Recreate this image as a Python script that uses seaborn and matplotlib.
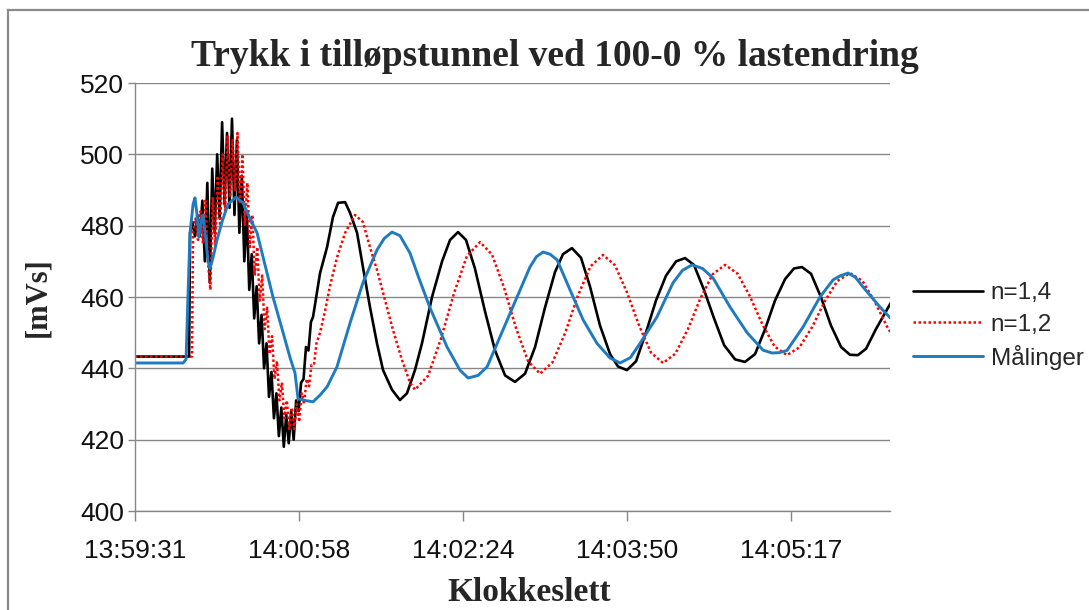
import matplotlib
matplotlib.use("Agg")
import matplotlib.pyplot as plt
import seaborn as sns
from matplotlib.lines import Line2D

# ---------------- data (seconds after 13:59:31, value in mVs) ----------------
title = "Trykk i tilløpstunnel ved 100-0 % lastendring"
x_label = "Klokkeslett"
y_label = "[mVs]"
series_names = ["n=1,4", "n=1,2", "Målinger"]

x_tick_pos = [0, 86.4, 172.8, 259.2, 345.6]
x_tick_labels = ["13:59:31", "14:00:58", "14:02:24", "14:03:50", "14:05:17"]
y_ticks = [400, 420, 440, 460, 480, 500, 520]

black_t = [0, 28.5,
           29.0, 30.3, 31.6, 32.9, 34.2, 35.5, 36.8, 38.1, 39.4, 40.7,
           42.0, 43.3, 44.6, 45.9, 47.2, 48.5, 49.8, 51.1, 52.4, 53.7,
           55.0, 56.3, 57.6, 58.9, 60.2, 61.5, 62.8, 64.1, 65.4, 66.7,
           68.0, 69.3, 70.6, 71.9, 73.2, 74.5, 75.8, 77.1, 78.4, 79.7,
           81.0, 82.3, 83.6, 84.9, 86.2, 87.5, 88.8, 90.1, 91.4, 92.7,
           93.8, 97.5, 101.2, 104.3, 107.0, 110.7, 113.3, 117.0, 120.1, 123.8,
           127.5, 130.7, 135.4, 139.6, 143.3, 147.5, 151.2, 156.5, 161.8, 166.0,
           170.2, 174.4, 179.1, 184.4, 189.7, 195.0, 200.2, 205.5, 210.8, 216.0,
           221.3, 225.5, 230.2, 235.0, 239.7, 245.0, 250.3, 254.5, 259.2, 264.0,
           269.2, 274.5, 279.8, 285.1, 289.8, 294.5, 299.8, 305.1, 310.4, 316.2,
           321.4, 326.7, 332.0, 337.2, 342.5, 347.2, 351.4, 356.2, 361.4, 366.7,
           372.0, 376.7, 380.9, 385.2, 390.4, 398.9]
black_v = [443.3, 443.3,
           478, 481, 477, 483, 477, 487, 470, 492, 464, 496,
           478, 500, 482, 509, 486, 506, 485, 510, 483, 504,
           478, 494, 470, 484, 462, 472, 454, 463, 447, 455,
           440, 447, 432, 439, 426, 433, 421, 429, 418, 427,
           419, 428, 420, 431, 428, 436, 437, 446, 445, 453,
           454.4, 466.7, 474, 482.4, 486.4, 486.6, 483.6, 478, 468.4, 457.2,
           447, 439.5, 434, 431.1, 433, 439.5, 447, 460, 470, 476,
           478.2, 476, 468, 456, 445, 438, 436.2, 438.5, 446, 457,
           467, 472, 473.7, 471, 463, 452, 444, 440.5, 439.5, 442,
           450, 459, 466, 470, 470.9, 469, 462, 454, 446.5, 442.5,
           441.8, 444, 451, 459, 465, 468, 468.4, 466.5, 460, 452,
           446, 443.8, 443.7, 445.5, 451, 459]

red_t = [0, 30.0,
         30.6, 31.9, 33.2, 34.5, 35.8, 37.1, 38.4, 39.7, 41.0, 42.3,
         43.6, 44.9, 46.2, 47.5, 48.8, 50.1, 51.4, 52.7, 54.0, 55.3,
         56.6, 57.9, 59.2, 60.5, 61.8, 63.1, 64.4, 65.7, 67.0, 68.3,
         69.6, 70.9, 72.2, 73.5, 74.8, 76.1, 77.4, 78.7, 80.0, 81.3,
         82.6, 83.9, 85.2, 86.5, 87.8, 89.1, 90.4, 91.7, 93.0, 94.3, 95.6,
         97.5, 100.1, 102.7, 106.4, 110.7, 115.9, 120.1, 123.8, 127.5, 131.7,
         135.9, 140.7, 144.9, 147.5, 154.4, 161.2, 168.1, 174.9, 181.8, 188.1,
         194.4, 200.8, 207.1, 213.4, 220.0, 226.7, 233.3, 240.0, 246.6, 252.9,
         259.2, 265.6, 271.9, 278.2, 284.7, 291.3, 297.8, 304.4, 310.9, 317.4,
         323.9, 330.5, 337.0, 343.5, 350.1, 356.8, 363.4, 370.1, 376.7, 383.3,
         389.9, 396.5, 398.9]
red_v = [443.3, 443.3,
         478, 482, 476, 484, 475, 487, 470, 462, 488, 474,
         494, 480, 500, 484, 505, 488, 504, 490, 506, 486,
         500, 480, 492, 474, 483, 466, 474, 459, 466, 451,
         457, 444, 449, 437, 442, 431, 436, 426, 431, 423,
         429, 423, 430, 425, 433, 430, 437, 435, 441, 441, 447,
         450, 456, 463, 471, 478, 483, 481, 474, 467.6, 459.2,
         450.8, 442.3, 436, 434, 437.9, 448.3, 461.1, 471.5, 475.4, 471.9,
         462.7, 451.2, 442.0, 438.5, 441.7, 450.0, 460.3, 468.6, 471.8, 468.9,
         461.3, 452.0, 444.4, 441.5, 444.1, 451.0, 459.5, 466.4, 469, 466.6,
         460.3, 452.4, 446.1, 443.7, 445.9, 451.6, 458.8, 464.5, 466.7, 464.5,
         458.6, 451.4, 449.5]

blue_t = [0, 25.3, 26.9, 27.9, 29.0, 30.6, 31.6, 32.7, 33.7, 34.8,
          35.8, 36.9, 38.5, 39.5, 41.1, 43.2, 45.8, 49.0, 53.2, 56.9,
          60.6, 64.3, 68.5, 72.7, 77.5, 81.7, 84.3, 85.9, 89.6, 93.8,
          97.5, 101.2, 106.4, 113.3, 120.1, 127.5, 131.3, 135.4, 139.6, 144.9,
          149.1, 155.4, 164.4, 171.2, 175.5, 180.7, 185.5, 193.9, 201.3, 208.1,
          211.5, 215.0, 218.7, 222.4, 229.2, 236.1, 243.4, 250.3, 255.6, 261.0,
          266.1, 275.0, 283.5, 288.5, 293.5, 299.0, 304.6, 313.5, 322.5, 330.9,
          335.6, 339.5, 343.5, 352.0, 360.9, 367.8, 371.8, 375.7, 379.6, 383.6,
          392.5, 398.9]
blue_v = [441.5, 441.5, 442.5, 460, 478, 486, 487.8, 483, 476.8, 481,
          483, 478, 470, 468, 471, 476, 481, 486, 488, 486.4,
          482, 478, 469, 460, 451, 443, 438.7, 431.5, 431.0, 430.6,
          432.5, 434.8, 440.4, 452.7, 464, 473.2, 476.4, 478.2, 477.2, 472.3,
          466, 457, 446, 439.5, 437.3, 438, 440.4, 450.8, 460, 468.4,
          471.3, 472.6, 472.0, 470.4, 462, 453.6, 447, 442.9, 441.5, 443,
          447, 454.4, 464, 467.5, 469, 468, 465.3, 457.2, 450, 445.1,
          444.3, 444.4, 445, 451.6, 460, 464.8, 466.0, 466.7, 465.5, 462.8,
          457.2, 453.6]

# ---------------- styling ----------------
sns.set_style("white")
plt.rcParams['font.family'] = ['Liberation Sans', 'DejaVu Sans']

W, H = 1089, 610
fig = plt.figure(figsize=(W / 100, H / 100), dpi=100)
ax = fig.add_axes([135 / W, 1 - 511 / H, 755 / W, 428 / H])

grey = '#878787'

sns.lineplot(x=black_t, y=black_v, ax=ax, color='black', linewidth=1.9,
             label=series_names[0], estimator=None, sort=False)
sns.lineplot(x=red_t, y=red_v, ax=ax, color='#ff0000', linewidth=1.8,
             label=series_names[1], estimator=None, sort=False)
ax.lines[-1].set_linestyle((0, (1, 1)))
sns.lineplot(x=blue_t, y=blue_v, ax=ax, color='#1f7bc0', linewidth=2.1,
             label=series_names[2], estimator=None, sort=False)
for ln in ax.lines:
    ln.set_solid_joinstyle('round')

ax.set_xlim(0, 397.8)
ax.set_ylim(400, 520)
ax.set_xticks(x_tick_pos)
ax.set_xticklabels(x_tick_labels)
ax.set_yticks(y_ticks)
ax.tick_params(axis='x', length=7, width=1, color=grey, pad=13, labelsize=19,
               labelcolor='#111111', direction='out', bottom=True)
ax.tick_params(axis='y', length=5, width=1, color=grey, pad=3, labelsize=19,
               labelcolor='#111111', direction='out', left=True)
ax.grid(axis='y', color=grey, linewidth=1)
ax.grid(axis='x', visible=False)
ax.set_axisbelow(True)
for s in ['top', 'right']:
    ax.spines[s].set_visible(False)
for s in ['left', 'bottom']:
    ax.spines[s].set_color(grey)
    ax.spines[s].set_linewidth(1)

ax.set_title(title, fontsize=27, fontweight='bold', family='Liberation Serif',
             x=(555 - 135) / 755, y=1 + 27 / 428, pad=0, va='center')
ax.set_xlabel(x_label, fontsize=24, fontweight='bold', family='Liberation Serif')
ax.xaxis.set_label_coords((529 - 135) / 755, -0.155)
ax.set_ylabel(y_label, fontsize=22, fontweight='bold', family='Liberation Serif')
ax.yaxis.set_label_coords(-0.11, 0.5)

handles, labels = ax.get_legend_handles_labels()
ax.legend(handles, labels, loc='center left',
          bbox_to_anchor=(913 / W, 1 - 326 / H), bbox_transform=fig.transFigure,
          frameon=False, fontsize=17.5, handlelength=2.9, handletextpad=0.3,
          labelspacing=0.38, borderpad=0, borderaxespad=0)

# outer chart border (top and left visible)
fig.add_artist(Line2D([8 / W, 8 / W], [0, 1 - 10 / H], transform=fig.transFigure,
                      color='#8a8a8a', linewidth=1.6, solid_capstyle='projecting'))
fig.add_artist(Line2D([8 / W, 1], [1 - 10 / H, 1 - 10 / H], transform=fig.transFigure,
                      color='#8a8a8a', linewidth=1.6, solid_capstyle='projecting'))

fig.savefig('out.png', dpi=100)
